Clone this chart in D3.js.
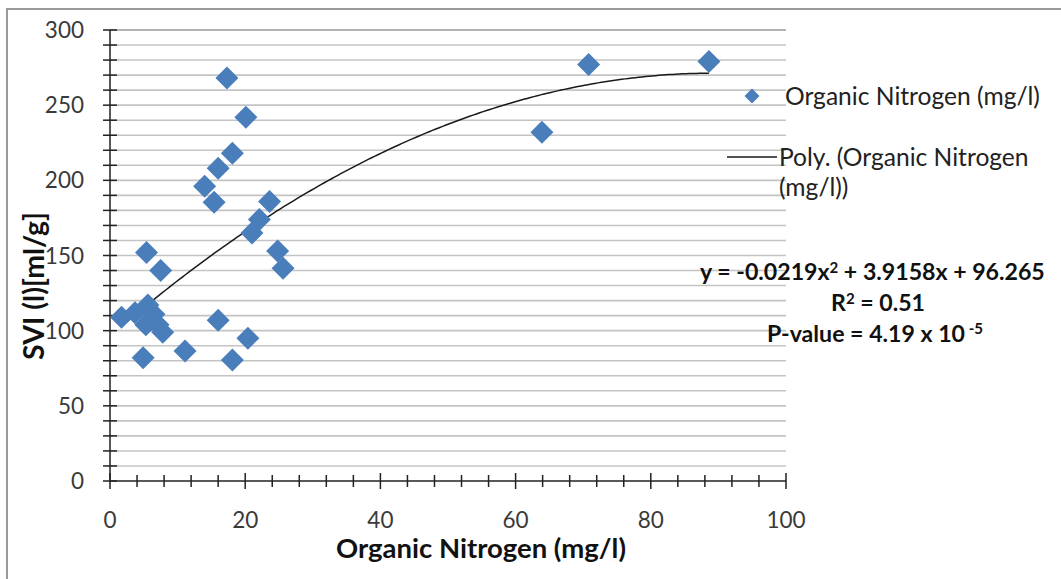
<!DOCTYPE html>
<html>
<head>
<meta charset="utf-8">
<script src="https://cdn.jsdelivr.net/npm/d3@7"></script>
<style>
  html, body { margin: 0; padding: 0; background: #ffffff; }
  svg { display: block; font-family: Lato, "Open Sans", sans-serif; }
</style>
</head>
<body>
<svg id="chart" width="1061" height="579"></svg>
<script>
// ---- data ----
const nitrogen = [17.3, 20.1, 18.1, 16.0, 14.0, 15.4, 23.6, 22.1, 21.0, 5.4, 24.8, 7.5, 25.6,
                  1.7, 3.7, 5.6, 6.5, 5.3, 7.1, 7.8, 6.0, 4.9, 11.1, 16.0, 20.4, 18.1,
                  63.9, 70.8, 88.6];
const svi      = [268, 242, 218, 208, 196, 185.5, 186, 174, 165, 152, 153, 140, 141.5,
                  109, 112, 117, 111, 104, 104, 99, 107, 82, 86.5, 107, 95, 80.5,
                  232, 277, 279];
const polyCoefficients = [96.265, 3.9158, -0.0219];   // c0 + c1 x + c2 x^2
const xTicks = [0, 20, 40, 60, 80, 100];
const yTicks = [0, 50, 100, 150, 200, 250, 300];
const seriesName = "Organic Nitrogen (mg/l)";
const trendNameLines = ["Poly. (Organic Nitrogen", "(mg/l))"];
const xTitle = "Organic Nitrogen (mg/l)";
const yTitle = "SVI (l)[ml/g]";

// ---- drawing ----
const svg = d3.select("#chart");
const x = d3.scaleLinear().domain([0, 100]).range([110, 786]);
const y = d3.scaleLinear().domain([0, 300]).range([481, 30]);
const blue = "#4a7ebb";

// outer frame
svg.append("rect").attr("x", 7).attr("y", 9).attr("width", 1070).attr("height", 590)
  .attr("fill", "none").attr("stroke", "#9a9a9a").attr("stroke-width", 2);

// gridlines
svg.append("g").selectAll("line").data(d3.range(10, 301, 10)).join("line")
  .attr("x1", x(0)).attr("x2", x(100))
  .attr("y1", d => y(d)).attr("y2", d => y(d))
  .attr("stroke", d => d === 300 ? "#9a9a9a" : "#c4c4c4").attr("stroke-width", 1.6);

// y axis
const yAxis = svg.append("g");
yAxis.append("line").attr("x1", x(0)).attr("x2", x(0)).attr("y1", y(0)).attr("y2", y(300))
  .attr("stroke", "#222").attr("stroke-width", 1.5);
yAxis.selectAll("line.t").data(d3.range(0, 301, 10)).join("line").attr("class", "t")
  .attr("x1", x(0) - 7).attr("x2", x(0) + 7)
  .attr("y1", d => y(d)).attr("y2", d => y(d))
  .attr("stroke", "#222").attr("stroke-width", 1.5);
yAxis.selectAll("text").data(yTicks).join("text")
  .attr("x", 84).attr("y", d => y(d)).attr("dy", "0.36em")
  .attr("text-anchor", "end").attr("font-size", 22.5).attr("fill", "#3a3a3a")
  .text(d => d);

// x axis
const xAxis = svg.append("g");
xAxis.append("line").attr("x1", x(0)).attr("x2", x(100)).attr("y1", y(0)).attr("y2", y(0))
  .attr("stroke", "#222").attr("stroke-width", 1.5);
xAxis.selectAll("line.t").data(d3.range(0, 101, 4)).join("line").attr("class", "t")
  .attr("x1", d => x(d)).attr("x2", d => x(d))
  .attr("y1", d => y(0) - (d % 20 === 0 ? 8 : 6)).attr("y2", d => y(0) + (d % 20 === 0 ? 8 : 6))
  .attr("stroke", "#222").attr("stroke-width", 1.5);
xAxis.selectAll("text").data(xTicks).join("text")
  .attr("x", d => x(d)).attr("y", 520).attr("dy", "0.36em")
  .attr("text-anchor", "middle").attr("font-size", 22.5).attr("fill", "#3a3a3a")
  .text(d => d);

function fit(sel, target) {
  const w = sel.node().getComputedTextLength();
  const fs = parseFloat(sel.attr("font-size"));
  sel.attr("font-size", fs * target / w);
  return fs * target / w;
}

// axis titles
const xt = svg.append("text").attr("x", 481).attr("y", 548).attr("dy", "0.36em")
  .attr("text-anchor", "middle").attr("font-size", 22).attr("font-weight", "bold")
  .attr("fill", "#111").text(xTitle);
fit(xt, 290);
const yt = svg.append("text").attr("transform", "translate(34,286) rotate(-90)")
  .attr("dy", "0.36em").attr("text-anchor", "middle").attr("font-size", 22)
  .attr("font-weight", "bold").attr("fill", "#111").text(yTitle);
fit(yt, 148);

// trend line
const xMin = d3.min(nitrogen), xMax = d3.max(nitrogen);
const poly = v => polyCoefficients[0] + polyCoefficients[1] * v + polyCoefficients[2] * v * v;
const trendX = d3.range(xMin, xMax, 0.5).concat([xMax]);
svg.append("path")
  .attr("d", d3.line().x(d => x(d)).y(d => y(poly(d)))(trendX))
  .attr("fill", "none").attr("stroke", "#1a1a1a").attr("stroke-width", 1.5);

// diamonds
const diamond = r => `M0,${-r}L${r},0L0,${r}L${-r},0Z`;
svg.append("g").selectAll("path").data(nitrogen.map((v, i) => [v, svi[i]])).join("path")
  .attr("transform", d => `translate(${x(d[0])},${y(d[1])})`)
  .attr("d", diamond(11.5)).attr("fill", blue);

// legend
svg.append("path").attr("transform", "translate(752,96)").attr("d", diamond(7.5)).attr("fill", blue);
const l1 = svg.append("text").attr("x", 785).attr("y", 96).attr("dy", "0.36em")
  .attr("font-size", 22).attr("fill", "#222").text(seriesName);
const lfs = fit(l1, 255);
svg.append("line").attr("x1", 727).attr("x2", 777).attr("y1", 157).attr("y2", 157)
  .attr("stroke", "#1a1a1a").attr("stroke-width", 1.5);
svg.selectAll("text.leg2").data(trendNameLines).join("text").attr("class", "leg2")
  .attr("x", 779).attr("y", (d, i) => 157 + i * 30).attr("dy", "0.36em")
  .attr("font-size", lfs).attr("fill", "#222").text(d => d);

// equation text
const eq = svg.append("text").attr("x", 700).attr("y", 280)
  .attr("font-size", 20).attr("font-weight", "bold").attr("fill", "#111");
eq.append("tspan").text("y = -0.0219x");
eq.append("tspan").attr("dy", -7).attr("font-size", 13).text("2");
eq.append("tspan").attr("dy", 7).text(" + 3.9158x + 96.265");
const eqW = eq.node().getComputedTextLength();
const eqScale = 345 / eqW;
eq.attr("font-size", 20 * eqScale);
eq.selectAll("tspan").filter((d, i) => i === 1).attr("font-size", 13 * eqScale);

const r2 = svg.append("text").attr("x", 878).attr("y", 311).attr("text-anchor", "middle")
  .attr("font-size", 20 * eqScale).attr("font-weight", "bold").attr("fill", "#111");
r2.append("tspan").text("R");
r2.append("tspan").attr("dy", -7).attr("font-size", 13 * eqScale).text("2");
r2.append("tspan").attr("dy", 7).text(" = 0.51");

const pv = svg.append("text").attr("x", 767).attr("y", 342)
  .attr("font-size", 20 * eqScale).attr("font-weight", "bold").attr("fill", "#111");
pv.append("tspan").text("P-value = 4.19 x 10");
pv.append("tspan").attr("dy", -8).attr("font-size", 13 * eqScale).text(" -5");
</script>
</body>
</html>
